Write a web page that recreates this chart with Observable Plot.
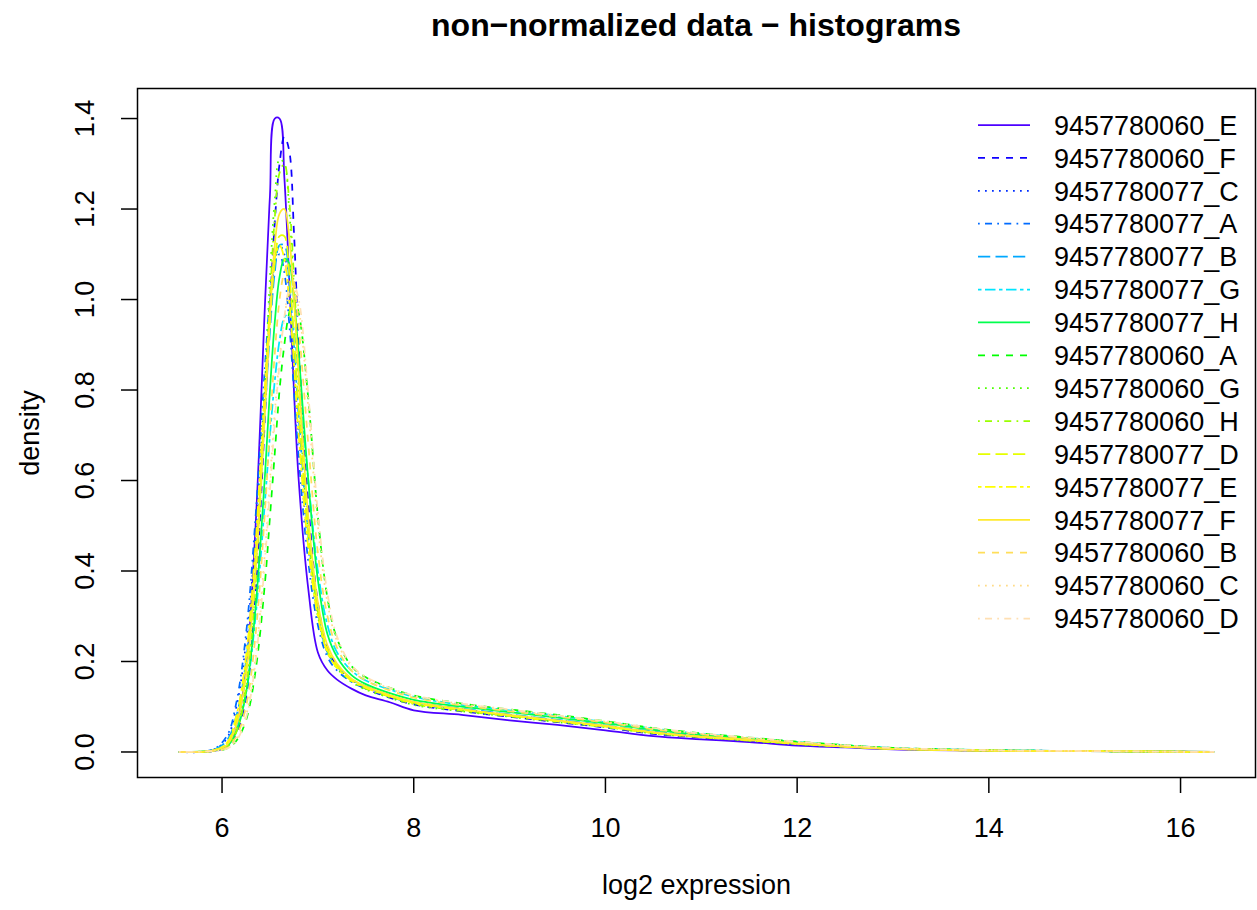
<!DOCTYPE html>
<html>
<head>
<meta charset="utf-8">
<script src="https://cdn.jsdelivr.net/npm/d3@7"></script>
<script src="https://cdn.jsdelivr.net/npm/@observablehq/plot@0.6"></script>
<style>
  html, body { margin: 0; padding: 0; background: white; }
  #wrap { position: relative; width: 1257px; height: 910px; font-family: "Liberation Sans", Arial, Helvetica, sans-serif; }
  #title { height: 50px; line-height: 50px; text-align: center; font-weight: bold; font-size: 32px; padding-left: 135px; box-sizing: border-box; }
  #legend { position: absolute; left: 0; top: 0; pointer-events: none; }
  svg { display: block; }
</style>
</head>
<body>
<div id="wrap">
  <div id="title">non−normalized data − histograms</div>
  <div id="chart"></div>
</div>
<script>
const titleText = "non−normalized data − histograms";
const xLabel = "log2 expression";
const yLabel = "density";
const xTicks = [6, 8, 10, 12, 14, 16];
const yTicks = [0, 0.2, 0.4, 0.6, 0.8, 1.0, 1.2, 1.4];

const sampleNames = ["9457780060_E","9457780060_F","9457780077_C","9457780077_A","9457780077_B","9457780077_G","9457780077_H","9457780060_A","9457780060_G","9457780060_H","9457780077_D","9457780077_E","9457780077_F","9457780060_B","9457780060_C","9457780060_D"];
const sampleColors = ["#4C00FF","#0F00FF","#002EFF","#006BFF","#00A8FF","#00E5FF","#00FF4D","#00FF00","#4DFF00","#99FF00","#E6FF00","#FFFF00","#FFEA2D","#FFDE59","#FFDB86","#FFE0B3"];
const lineTypes = ["solid","dashed","dotted","dotdash","longdash","twodash","solid","dashed","dotted","dotdash","longdash","twodash","solid","dashed","dotted","dotdash"];

const xGrid = [5.55, 5.9, 6.05, 6.15, 6.25, 6.35, 6.45, 6.5, 6.55, 6.6, 6.65, 6.7, 6.75, 6.8, 6.9, 7.0, 7.1, 7.2, 7.35, 7.5, 7.75, 8.0, 8.5, 9.0, 9.5, 10.0, 10.5, 11.0, 11.5, 12.0, 12.5, 13.0, 14.0, 15.0, 16.35];

const d60E = [0, 0.002, 0.012, 0.06, 0.18, 0.5, 1.0, 1.23, 1.40, 1.40, 1.27, 1.05, 0.8, 0.6, 0.36, 0.22, 0.18, 0.16, 0.14, 0.125, 0.11, 0.092, 0.082, 0.07, 0.06, 0.048, 0.035, 0.028, 0.022, 0.014, 0.01, 0.006, 0.003, 0.002, 0];
const d60F = [0, 0.002, 0.01, 0.04, 0.12, 0.35, 0.75, 0.98, 1.17, 1.3, 1.36, 1.33, 1.15, 0.9, 0.55, 0.33, 0.23, 0.19, 0.16, 0.14, 0.12, 0.105, 0.09, 0.078, 0.066, 0.054, 0.04, 0.032, 0.025, 0.017, 0.012, 0.007, 0.003, 0.002, 0];
const d77C = [0, 0.004, 0.03, 0.1, 0.24, 0.48, 0.82, 0.98, 1.08, 1.12, 1.1, 1.0, 0.85, 0.7, 0.45, 0.3, 0.22, 0.19, 0.16, 0.145, 0.125, 0.11, 0.095, 0.082, 0.07, 0.058, 0.044, 0.035, 0.027, 0.019, 0.013, 0.008, 0.004, 0.002, 0];
const d77A = [0, 0.005, 0.035, 0.11, 0.26, 0.52, 0.86, 1.0, 1.08, 1.1, 1.06, 0.95, 0.8, 0.65, 0.42, 0.28, 0.21, 0.18, 0.155, 0.14, 0.122, 0.108, 0.093, 0.08, 0.069, 0.057, 0.043, 0.034, 0.026, 0.018, 0.012, 0.007, 0.003, 0.002, 0];
const d77B = [0, 0.004, 0.025, 0.08, 0.2, 0.42, 0.76, 0.93, 1.06, 1.12, 1.12, 1.04, 0.9, 0.74, 0.48, 0.31, 0.22, 0.19, 0.16, 0.145, 0.125, 0.11, 0.096, 0.083, 0.071, 0.059, 0.045, 0.036, 0.028, 0.02, 0.013, 0.008, 0.004, 0.002, 0];
const d77G = [0, 0.003, 0.015, 0.05, 0.13, 0.3, 0.56, 0.7, 0.82, 0.91, 0.96, 0.97, 0.93, 0.83, 0.6, 0.4, 0.28, 0.22, 0.18, 0.158, 0.138, 0.122, 0.104, 0.092, 0.08, 0.066, 0.052, 0.04, 0.031, 0.022, 0.015, 0.009, 0.004, 0.002, 0];
const d77H = [0, 0.003, 0.012, 0.045, 0.13, 0.32, 0.62, 0.8, 0.95, 1.05, 1.09, 1.08, 1.0, 0.88, 0.6, 0.38, 0.26, 0.21, 0.17, 0.15, 0.13, 0.115, 0.1, 0.088, 0.076, 0.063, 0.049, 0.038, 0.03, 0.021, 0.014, 0.008, 0.004, 0.002, 0];
const d60A = [0, 0.002, 0.008, 0.025, 0.07, 0.18, 0.38, 0.52, 0.66, 0.8, 0.9, 0.97, 1.0, 0.97, 0.78, 0.52, 0.34, 0.25, 0.19, 0.165, 0.142, 0.125, 0.107, 0.094, 0.082, 0.068, 0.053, 0.041, 0.032, 0.023, 0.015, 0.009, 0.004, 0.002, 0];
const d60G = [0, 0.002, 0.012, 0.05, 0.15, 0.4, 0.82, 1.05, 1.22, 1.31, 1.3, 1.2, 1.02, 0.8, 0.48, 0.3, 0.22, 0.185, 0.155, 0.138, 0.12, 0.104, 0.09, 0.078, 0.066, 0.055, 0.041, 0.032, 0.025, 0.017, 0.011, 0.007, 0.003, 0.002, 0];
const d60H = [0, 0.002, 0.01, 0.045, 0.14, 0.37, 0.78, 1.0, 1.18, 1.28, 1.3, 1.22, 1.05, 0.84, 0.5, 0.31, 0.225, 0.19, 0.158, 0.14, 0.122, 0.106, 0.091, 0.079, 0.067, 0.055, 0.042, 0.033, 0.025, 0.018, 0.012, 0.007, 0.003, 0.002, 0];
const d77D = [0, 0.003, 0.018, 0.07, 0.19, 0.43, 0.78, 0.95, 1.08, 1.14, 1.14, 1.06, 0.92, 0.76, 0.48, 0.31, 0.225, 0.19, 0.16, 0.143, 0.124, 0.109, 0.094, 0.081, 0.069, 0.057, 0.043, 0.034, 0.026, 0.018, 0.012, 0.007, 0.003, 0.002, 0];
const d77E = [0, 0.003, 0.02, 0.08, 0.21, 0.46, 0.82, 0.98, 1.09, 1.12, 1.09, 1.0, 0.86, 0.7, 0.45, 0.3, 0.22, 0.186, 0.158, 0.142, 0.123, 0.108, 0.093, 0.08, 0.068, 0.056, 0.042, 0.033, 0.026, 0.018, 0.012, 0.007, 0.003, 0.002, 0];
const d77F = [0, 0.003, 0.015, 0.06, 0.17, 0.4, 0.76, 0.96, 1.12, 1.19, 1.2, 1.14, 1.0, 0.83, 0.52, 0.33, 0.235, 0.195, 0.162, 0.145, 0.126, 0.111, 0.095, 0.082, 0.07, 0.058, 0.044, 0.034, 0.027, 0.019, 0.012, 0.007, 0.003, 0.002, 0];
const d60B = [0, 0.002, 0.01, 0.035, 0.1, 0.26, 0.54, 0.72, 0.88, 1.0, 1.06, 1.08, 1.04, 0.94, 0.68, 0.44, 0.3, 0.23, 0.18, 0.158, 0.136, 0.12, 0.103, 0.09, 0.078, 0.065, 0.05, 0.039, 0.03, 0.021, 0.014, 0.008, 0.004, 0.002, 0];
const d60C = [0, 0.002, 0.008, 0.028, 0.08, 0.21, 0.45, 0.6, 0.75, 0.87, 0.96, 1.01, 1.02, 0.98, 0.76, 0.5, 0.33, 0.245, 0.188, 0.163, 0.14, 0.123, 0.106, 0.093, 0.08, 0.067, 0.052, 0.04, 0.031, 0.022, 0.015, 0.009, 0.004, 0.002, 0];
const d60D = [0, 0.002, 0.007, 0.025, 0.075, 0.2, 0.43, 0.58, 0.73, 0.86, 0.96, 1.02, 1.03, 1.0, 0.79, 0.53, 0.35, 0.255, 0.192, 0.166, 0.142, 0.125, 0.107, 0.094, 0.081, 0.068, 0.053, 0.041, 0.032, 0.023, 0.015, 0.009, 0.004, 0.002, 0];

const densities = [d60E, d60F, d77C, d77A, d77B, d77G, d77H, d60A, d60G, d60H, d77D, d77E, d77F, d60B, d60C, d60D];

const FONT = '"Liberation Sans", Arial, Helvetica, sans-serif';
const LW = 1.75;
const dashMap = {
  solid: null,
  dashed: "7,7",
  dotted: "1.75,5.25",
  dotdash: "1.75,5.25,7,5.25",
  longdash: "12.25,5.25",
  twodash: "3.5,3.5,10.5,3.5"
};

const seriesMarks = sampleNames.map((name, i) => {
  const rows = xGrid.map((x, j) => ({x, y: densities[i][j], sample: name}));
  const opts = {x: "x", y: "y", stroke: sampleColors[i], strokeWidth: LW, curve: "catmull-rom", strokeLinecap: "butt"};
  if (dashMap[lineTypes[i]]) opts.strokeDasharray = dashMap[lineTypes[i]];
  return Plot.line(rows, opts);
});

const fmtY = d3.format(".1f");

const chart = Plot.plot({
  width: 1257,
  height: 860,
  marginTop: 38,
  marginBottom: 133,
  marginLeft: 137,
  marginRight: 2,
  style: {fontFamily: FONT, fontSize: "27px", background: "white", color: "black", overflow: "visible"},
  x: {domain: [5.118, 16.782]},
  y: {domain: [-0.0564, 1.4664]},
  marks: [
    ...seriesMarks,
    Plot.frame({stroke: "black", strokeWidth: 1.5}),
    Plot.axisX({ticks: xTicks, tickSize: 16, tickPadding: 24, fontSize: 27, label: null, strokeWidth: 1.5, tickFormat: d => String(d)}),
    Plot.axisY({ticks: yTicks, tickSize: 16, label: null, strokeWidth: 1.5, tickFormat: () => ""}),
    Plot.text(yTicks, {y: d => d, text: d => fmtY(d), frameAnchor: "left", textAnchor: "middle", lineAnchor: "middle", dx: -52, rotate: -90, fontSize: 27}),
    Plot.text([xLabel], {text: d => d, frameAnchor: "bottom", dy: 116, fontSize: 27}),
    Plot.text([yLabel], {text: d => d, frameAnchor: "left", textAnchor: "middle", lineAnchor: "middle", dx: -107, rotate: -90, fontSize: 27})
  ]
});
document.getElementById("chart").appendChild(chart);

// legend (no box), top right like R legend(bty="n")
const leg = d3.select("#wrap").append("svg")
  .attr("id", "legend")
  .attr("width", 1257).attr("height", 910);
const rowY0 = 125, rowStep = 32.9;
sampleNames.forEach((name, i) => {
  const g = leg.append("g").attr("transform", `translate(0,${rowY0 + i * rowStep})`);
  const ln = g.append("line")
    .attr("x1", 978).attr("x2", 1030).attr("y1", 0).attr("y2", 0)
    .attr("stroke", sampleColors[i]).attr("stroke-width", LW);
  if (dashMap[lineTypes[i]]) ln.attr("stroke-dasharray", dashMap[lineTypes[i]]);
  g.append("text")
    .attr("x", 1054).attr("y", 0).attr("dy", "0.36em")
    .attr("font-family", FONT).attr("font-size", 27)
    .attr("fill", "black")
    .text(name);
});
</script>
</body>
</html>
